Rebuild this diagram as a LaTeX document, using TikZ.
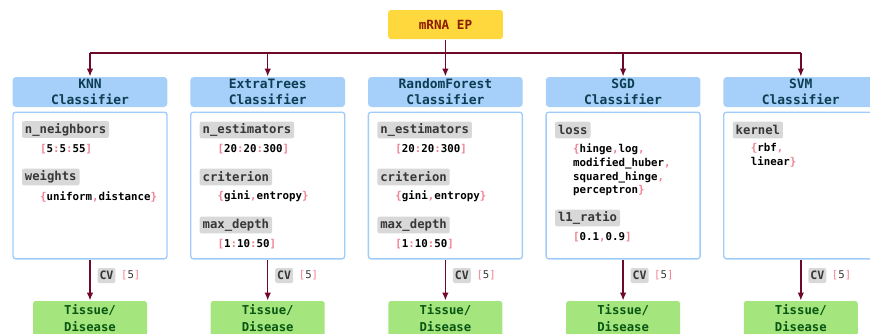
\documentclass[tikz,border=0pt]{standalone}
\usepackage{fontspec}
\setmonofont{DejaVu Sans Mono}
\usetikzlibrary{arrows.meta}

\definecolor{epfill}{RGB}{255,216,61}
\definecolor{eptext}{RGB}{140,28,0}
\definecolor{hdfill}{RGB}{166,207,250}
\definecolor{hdtext}{RGB}{12,62,82}
\definecolor{hdline}{RGB}{160,204,250}
\definecolor{keyfill}{RGB}{216,216,216}
\definecolor{keytext}{RGB}{55,55,55}
\definecolor{brk}{RGB}{240,130,145}
\definecolor{tsfill}{RGB}{165,229,125}
\definecolor{tstext}{RGB}{8,85,20}
\definecolor{flowc}{RGB}{110,10,40}

\newcommand{\pk}[1]{\textcolor{brk}{#1}}

\tikzset{every picture/.style={line width=0.75pt},
  epbox/.style={fill=epfill, rounded corners=2pt, minimum width=86pt, minimum height=21.75pt,
    text=eptext, font=\fontsize{9.5}{12}\selectfont\ttfamily\bfseries},
  hdbox/.style={fill=hdfill, rounded corners=2.5pt, minimum width=116pt, minimum height=22.5pt,
    inner sep=0pt, align=center, text=hdtext, font=\fontsize{9.7}{12}\selectfont\ttfamily\bfseries},
  parbox/.style={draw=hdline, fill=white, line width=1pt, rounded corners=2pt,
    minimum width=115.5pt, minimum height=110pt},
  keybox/.style={fill=keyfill, rounded corners=1.5pt, anchor=west, inner xsep=2.2pt, inner ysep=0pt,
    minimum height=12.5pt, text=keytext, font=\fontsize{9.2}{11}\selectfont\ttfamily\bfseries},
  valtxt/.style={anchor=west, inner sep=0pt, align=left,
    font=\fontsize{8.1}{10.35}\selectfont\ttfamily\bfseries},
  cvbox/.style={fill=keyfill, rounded corners=1.5pt, anchor=west, inner xsep=1.5pt, inner ysep=0pt,
    minimum height=11.25pt, text=keytext, font=\fontsize{8.7}{10}\selectfont\ttfamily\bfseries},
  cvval/.style={anchor=west, inner sep=0pt, text=keytext, font=\fontsize{8}{9}\selectfont\ttfamily},
  tsbox/.style={fill=tsfill, rounded corners=2pt, minimum width=85.5pt, minimum height=26.25pt,
    inner sep=0pt, align=center, text=tstext, font=\fontsize{9.2}{12.75}\selectfont\ttfamily\bfseries},
  flow/.style={draw=flowc, line width=1.1pt},
  flowarr/.style={flow, -{Latex[length=6pt,width=5pt]}}
}

\begin{document}
\begin{tikzpicture}[x=0.75pt,y=0.75pt,yscale=-1,xscale=1]
	\useasboundingbox (0,0) rectangle (870,333);
	\clip (0,0) rectangle (870,333);

	% Top box and bus
	\node[epbox] (ep) at (445.5,24.5) {mRNA EP};
	\coordinate (bus) at (445.5,53);

	% Headers
	\node[hdbox] (hKNN) at (90,92) {KNN\\Classifier};
	\node[hdbox] (hET) at (267.7,92) {ExtraTrees\\Classifier};
	\node[hdbox] (hRF) at (445.4,92) {RandomForest\\Classifier};
	\node[hdbox] (hSGD) at (623.1,92) {SGD\\Classifier};
	\node[hdbox] (hSVM) at (800.8,92) {SVM\\Classifier};

	% Parameter boxes
	\node[parbox] (pKNN) at (90,185.5) {};
	\node[parbox] (pET) at (267.7,185.5) {};
	\node[parbox] (pRF) at (445.4,185.5) {};
	\node[parbox] (pSGD) at (623.1,185.5) {};
	\node[parbox] (pSVM) at (800.8,185.5) {};

	% KNN parameters
	\node[keybox] (kKNNa) at (21.5,129.5) {n\_neighbors};
	\node[valtxt] (vKNNa) at (39.5,149) {\pk{[}5\pk{:}5\pk{:}55\pk{]}};
	\node[keybox] (kKNNb) at (21.5,177) {weights};
	\node[valtxt] (vKNNb) at (39.5,197) {\pk{\{}uniform\pk{,}distance\pk{\}}};

	% ExtraTrees parameters
	\node[keybox] (kETa) at (199.2,130) {n\_estimators};
	\node[valtxt] (vETa) at (217.2,149) {\pk{[}20\pk{:}20\pk{:}300\pk{]}};
	\node[keybox] (kETb) at (199.2,177) {criterion};
	\node[valtxt] (vETb) at (217.2,196) {\pk{\{}gini\pk{,}entropy\pk{\}}};
	\node[keybox] (kETc) at (199.2,225) {max\_depth};
	\node[valtxt] (vETc) at (217.2,244) {\pk{[}1\pk{:}10\pk{:}50\pk{]}};

	% RandomForest parameters
	\node[keybox] (kRFa) at (376.9,130) {n\_estimators};
	\node[valtxt] (vRFa) at (394.9,149) {\pk{[}20\pk{:}20\pk{:}300\pk{]}};
	\node[keybox] (kRFb) at (376.9,177) {criterion};
	\node[valtxt] (vRFb) at (394.9,196) {\pk{\{}gini\pk{,}entropy\pk{\}}};
	\node[keybox] (kRFc) at (376.9,225) {max\_depth};
	\node[valtxt] (vRFc) at (394.9,244) {\pk{[}1\pk{:}10\pk{:}50\pk{]}};

	% SGD parameters
	\node[keybox] (kSGDa) at (554.6,130) {loss};
	\node[valtxt] (vSGDa) at (572.6,170) {\pk{\{}hinge\pk{,}log\pk{,}\\modified\_huber\pk{,}\\squared\_hinge\pk{,}\\perceptron\pk{\}}};
	\node[keybox] (kSGDb) at (554.6,218) {l1\_ratio};
	\node[valtxt] (vSGDb) at (572.6,237) {\pk{[}0.1\pk{,}0.9\pk{]}};

	% SVM parameters
	\node[keybox] (kSVMa) at (732.3,130) {kernel};
	\node[valtxt] (vSVMa) at (750.3,155) {\pk{\{}rbf\pk{,}\\linear\pk{\}}};

	% Targets
	\node[tsbox] (tKNN) at (90,318.5) {Tissue/\\Disease};
	\node[tsbox] (tET) at (267.7,318.5) {Tissue/\\Disease};
	\node[tsbox] (tRF) at (445.4,318.5) {Tissue/\\Disease};
	\node[tsbox] (tSGD) at (623.1,318.5) {Tissue/\\Disease};
	\node[tsbox] (tSVM) at (800.8,318.5) {Tissue/\\Disease};

	% CV labels
	\node[cvbox] (cvKNN) at (97,275.5) {CV};
	\node[cvval] (cnKNN) at ([xshift=3.5pt]cvKNN.east) {\pk{[}5\pk{]}};
	\node[cvbox] (cvET) at (274.7,275.5) {CV};
	\node[cvval] (cnET) at ([xshift=3.5pt]cvET.east) {\pk{[}5\pk{]}};
	\node[cvbox] (cvRF) at (452.4,275.5) {CV};
	\node[cvval] (cnRF) at ([xshift=3.5pt]cvRF.east) {\pk{[}5\pk{]}};
	\node[cvbox] (cvSGD) at (630.1,275.5) {CV};
	\node[cvval] (cnSGD) at ([xshift=3.5pt]cvSGD.east) {\pk{[}5\pk{]}};
	\node[cvbox] (cvSVM) at (807.8,275.5) {CV};
	\node[cvval] (cnSVM) at ([xshift=3.5pt]cvSVM.east) {\pk{[}5\pk{]}};

	% Connectors
	\draw[flow] (ep.south) -- (bus);
	\draw[flow] (bus -| hKNN) -- (bus -| hSVM);
	\draw[flowarr] (bus -| hKNN) -- (hKNN.north);
	\draw[flowarr] (bus -| hET) -- (hET.north);
	\draw[flowarr] (bus -| hRF) -- (hRF.north);
	\draw[flowarr] (bus -| hSGD) -- (hSGD.north);
	\draw[flowarr] (bus -| hSVM) -- (hSVM.north);

	\draw[flowarr] (pKNN.south) -- (tKNN.north);
	\draw[flowarr] (pET.south) -- (tET.north);
	\draw[flowarr] (pRF.south) -- (tRF.north);
	\draw[flowarr] (pSGD.south) -- (tSGD.north);
	\draw[flowarr] (pSVM.south) -- (tSVM.north);

\end{tikzpicture}
\end{document}
